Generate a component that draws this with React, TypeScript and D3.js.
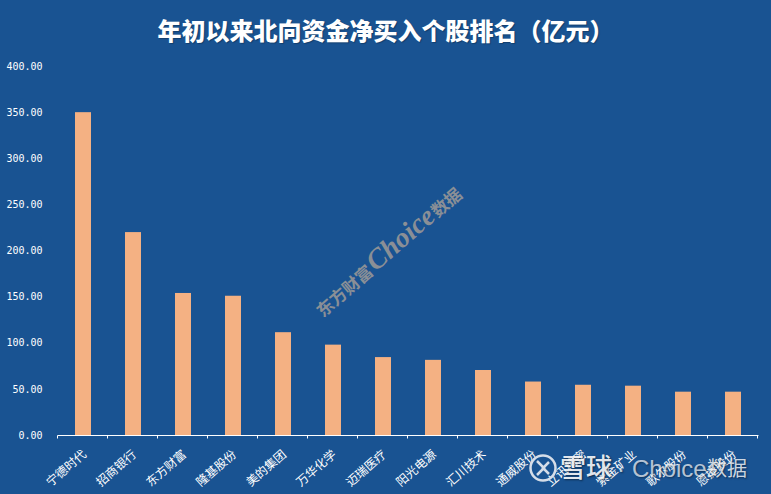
import { useEffect, useRef } from "react";
import * as d3 from "d3";

const names = ["宁德时代", "招商银行", "东方财富", "隆基股份", "美的集团", "万华化学", "迈瑞医疗", "阳光电源", "汇川技术", "通威股份", "立讯精密", "紫金矿业", "歌尔股份", "恩捷股份"];
const values = [350.5, 220.5, 154.5, 151.5, 112, 98.5, 85, 82, 71, 58.5, 55, 54, 47.5, 47.5];
const yTicks = [0, 50, 100, 150, 200, 250, 300, 350, 400];

const width = 771;
const height = 494;
const blue = "#195392";
const cn = '"Noto Sans CJK SC", sans-serif';

const App = () => {
  const svgRef = useRef<SVGSVGElement | null>(null);

  useEffect(() => {
    const svg = d3.select(svgRef.current);
    svg.selectAll("*").remove();

    const x = d3.scaleBand<string>().domain(names).range([58, 758]);
    const y = d3.scaleLinear().domain([0, 400]).range([435.5, 66.5]);

    svg.append("rect").attr("width", width).attr("height", height).attr("fill", blue);

    svg
      .append("text")
      .attr("x", 157.5)
      .attr("y", 40)
      .attr("fill", "#fff")
      .attr("font-family", cn)
      .attr("font-size", 24)
      .attr("font-weight", 900)
      .attr("style", "text-shadow: 1px 1px 1px rgba(0,0,0,0.25)")
      .text("年初以来北向资金净买入个股排名（亿元）");

    // watermark sits under the bars
    const mark = svg.append("g").attr("fill", "#8a8f96").attr("font-weight", 700);
    const markCn = mark
      .append("text")
      .attr("transform", "translate(323,318) rotate(-41)")
      .attr("font-family", cn)
      .attr("font-size", 17);
    markCn.append("tspan").text("东方财富");
    markCn
      .append("tspan")
      .attr("font-family", "'Liberation Serif'")
      .attr("font-style", "italic")
      .attr("font-size", 28)
      .attr("dx", 2)
      .text("Choice");
    markCn.append("tspan").attr("dx", 1).text("数据");

    svg
      .selectAll("rect.bar")
      .data(names)
      .enter()
      .append("rect")
      .attr("class", "bar")
      .attr("x", (d) => x(d)! + 17)
      .attr("width", 16)
      .attr("y", (_, i) => y(values[i]))
      .attr("height", (_, i) => y(0) - y(values[i]))
      .attr("fill", "#f4b183");

    const yAxis = d3
      .axisLeft(y)
      .tickValues(yTicks)
      .tickSize(0)
      .tickPadding(0)
      .tickFormat((d) => d3.format(".2f")(d as number));
    const gy = svg.append("g").attr("transform", "translate(42.5,-0.5)").call(yAxis);
    gy.select(".domain").remove();
    gy.selectAll("text")
      .attr("fill", "#fff")
      .attr("font-family", "'DejaVu Sans Mono', monospace")
      .attr("font-size", 10)
      .attr("dy", "0.32em");

    const xAxis = d3.axisBottom(x).tickSize(0).tickFormat((d) => d);
    const gx = svg.append("g").attr("transform", "translate(0,435.5)").call(xAxis);
    gx.select(".domain").attr("stroke", "#fff").attr("d", "M57.5,0H758.5");
    gx.selectAll(".tick").select("line").remove();
    gx.selectAll(".tick")
      .select("text")
      .attr("fill", "#fff")
      .attr("font-family", cn)
      .attr("font-size", 12)
      .attr("font-weight", 400)
      .attr("text-anchor", "end")
      .attr("y", 0)
      .attr("dy", 0)
      .attr("transform", "translate(4,20) rotate(-41)");

    // tick marks sit on the band edges, not the centres
    gx.selectAll("line.edge")
      .data(d3.range(names.length + 1))
      .enter()
      .append("line")
      .attr("class", "edge")
      .attr("x1", (i) => 57.5 + i * x.step())
      .attr("x2", (i) => 57.5 + i * x.step())
      .attr("y1", 0)
      .attr("y2", 3)
      .attr("stroke", "#fff");

    // 雪球 stamp in the bottom right corner
    const shadow = "text-shadow: 1px 1px 2px rgba(0,0,0,0.55)";
    const stamp = svg.append("g").attr("fill", "#fff");
    stamp
      .append("circle")
      .attr("cx", 543)
      .attr("cy", 468)
      .attr("r", 12.5)
      .attr("fill", "none")
      .attr("stroke", "#d5dde8")
      .attr("stroke-width", 2.5);
    stamp
      .append("path")
      .attr("d", "M537,461 L544,468 L537,475 M549,462 L543,468 L549,474")
      .attr("fill", "none")
      .attr("stroke", "#d5dde8")
      .attr("stroke-width", 2.5);
    stamp
      .append("text")
      .attr("x", 560)
      .attr("y", 477)
      .attr("font-family", cn)
      .attr("font-size", 26)
      .attr("font-weight", 500)
      .attr("fill-opacity", 0.9)
      .attr("style", shadow)
      .text("雪球");
    stamp
      .append("text")
      .attr("x", 617)
      .attr("y", 477)
      .attr("font-family", "'Liberation Sans'")
      .attr("font-size", 24)
      .attr("fill-opacity", 0.7)
      .attr("style", shadow)
      .text("·");
    stamp
      .append("text")
      .attr("x", 632)
      .attr("y", 477)
      .attr("font-family", "'Liberation Sans'")
      .attr("font-size", 24)
      .attr("fill-opacity", 0.7)
      .attr("style", shadow)
      .text("Choice");
    stamp
      .append("text")
      .attr("x", 707)
      .attr("y", 476)
      .attr("font-family", cn)
      .attr("font-size", 20)
      .attr("fill-opacity", 0.8)
      .attr("style", shadow)
      .text("数据");
  }, []);

  return <svg ref={svgRef} width={width} height={height} style={{ position: "absolute", left: 0, top: 0 }}></svg>;
};

export default App;
